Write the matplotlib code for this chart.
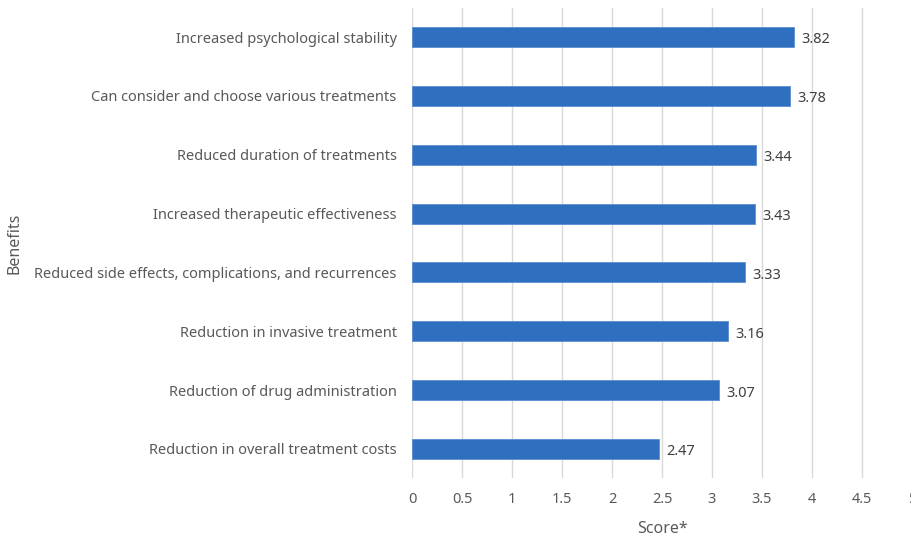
import matplotlib
matplotlib.use("Agg")
import matplotlib.pyplot as plt

benefits = [
    "Reduction in overall treatment costs",
    "Reduction of drug administration",
    "Reduction in invasive treatment",
    "Reduced side effects, complications, and recurrences",
    "Increased therapeutic effectiveness",
    "Reduced duration of treatments",
    "Can consider and choose various treatments",
    "Increased psychological stability",
]
scores = [2.47, 3.07, 3.16, 3.33, 3.43, 3.44, 3.78, 3.82]
x_ticks = [0, 0.5, 1, 1.5, 2, 2.5, 3, 3.5, 4, 4.5, 5]

plt.rcParams['font.family'] = ['Noto Sans', 'DejaVu Sans']

fig = plt.figure(figsize=(9.12, 5.40), dpi=100)
ax = fig.add_axes([412 / 912, 1 - 478.4 / 540, 500 / 912, (478.4 - 7.6) / 540])

bars = ax.barh(range(len(benefits)), scores, height=0.34, color='#2E6FBF',
               edgecolor='#5B8FD0', linewidth=0.6, zorder=3)
for i, v in enumerate(scores):
    ax.text(v + 0.07, i - 0.05, f"{v:.2f}", va='center', ha='left',
            fontsize=10.5, color='#404040')

ax.set_xlim(0, 5)
ax.set_ylim(-0.5, len(benefits) - 0.5)
ax.set_xticks(x_ticks)
ax.set_xticklabels([f"{t:g}" for t in x_ticks])
ax.set_yticks(range(len(benefits)))
ax.set_yticklabels(benefits)
ax.grid(axis='x', color='#D9D9D9', linewidth=1, zorder=0)
ax.tick_params(length=0, colors='#595959', labelsize=10.5)
ax.tick_params(axis='x', pad=10)
ax.tick_params(axis='y', pad=11)
for s in ax.spines.values():
    s.set_visible(False)

ax.set_xlabel("Score*", fontsize=11.5, color='#595959', labelpad=10)
fig.text(15 / 912, 1 - 243 / 540, "Benefits", rotation=90, ha='center', va='center',
         fontsize=11.5, color='#595959')

fig.savefig("out.png", dpi=100)
